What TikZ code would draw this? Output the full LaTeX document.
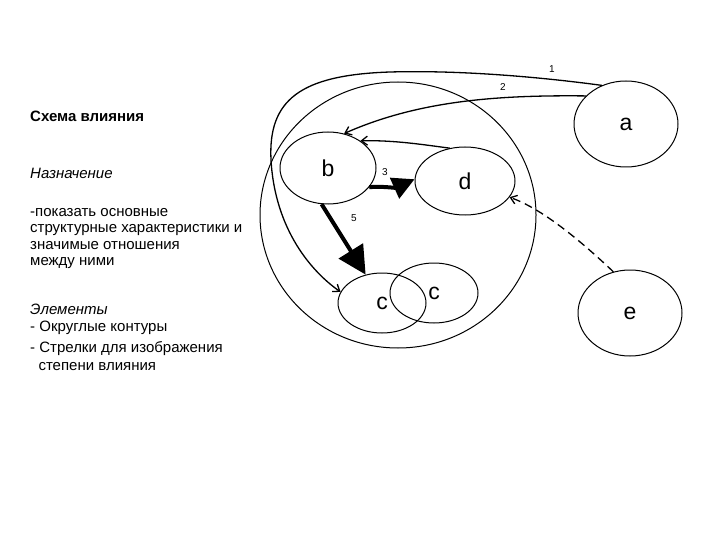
\documentclass[tikz,border=0pt]{standalone}
\usepackage{fontspec}
\setmainfont{Liberation Sans}
\usetikzlibrary{arrows.meta,shapes.geometric}
\begin{document}
\begin{tikzpicture}[x=1pt,y=-1pt,
  lab/.style={font=\fontsize{23}{23}\selectfont},
  txt/.style={anchor=west,font=\fontsize{15}{16}\selectfont,inner sep=0,text height=11pt,text depth=3pt},
  num/.style={font=\fontsize{10}{10}\selectfont,inner sep=0},
  thin/.style={line width=1.3pt,-{Straight Barb[length=6pt,width=9pt]}},
  big/.style={line width=4pt,-{Triangle[length=#1,width=#1]}}]
\useasboundingbox (0,0) rectangle (720,540);
\draw[line width=1pt] (398,215) ellipse [x radius=138,y radius=133];
\node[draw,line width=1pt,ellipse,minimum width=104pt,minimum height=86pt,lab] (a) at (626,124) {a};
\node[draw,line width=1pt,ellipse,minimum width=96pt,minimum height=72pt,lab] (b) at (328,168) {b};
\node[draw,line width=1pt,ellipse,minimum width=100pt,minimum height=68pt,lab] (d) at (465,181) {d};
\node[draw,line width=1pt,ellipse,minimum width=88pt,minimum height=60pt,lab] (c1) at (382,303) {c};
\node[draw,line width=1pt,ellipse,minimum width=88pt,minimum height=60pt,lab] (c2) at (434,293) {c};
\node[draw,line width=1pt,ellipse,minimum width=104pt,minimum height=86pt,lab] (e) at (630,313) {e};
% arrows
\draw[thin] (a.122) .. controls (540,77) and (460,70) .. (390,72)
  .. controls (300,75) and (268,100) .. (271,160) .. controls (275,230) and (312,272) .. (c1.165);
\draw[thin] (a.145) .. controls (500,95) and (420,100) .. (b.65);
\draw[thin] (d.115) .. controls (425,145) and (395,140) .. (b.40);
\draw[big=22pt] (b.-25) .. controls (380,186) and (395,188) .. (d.178);
\draw[big=28pt] (b.-100) -- (c1.120);
\draw[line width=1.3pt,dash pattern=on 8pt off 5pt,-{Straight Barb[length=6pt,width=9pt]}] (e.112) .. controls (585,245) and (545,210) .. (d.-20);
\node[num] (n1) at (552,69) {1};
\node[num] (n2) at (503,87) {2};
\node[num] (n3) at (385,172) {3};
\node[num] (n5) at (354,218) {5};
% text
\node[txt,font=\fontsize{15}{16}\selectfont\bfseries] (t1) at (30,118) {Схема влияния};
\node[txt,font=\fontsize{15}{16}\selectfont\itshape] (t2) at (30,175) {Назначение};
\node[txt] (t3) at (30,213) {-показать основные};
\node[txt] (t4) at (30,229) {структурные характеристики и};
\node[txt] (t5) at (30,245) {значимые отношения};
\node[txt] (t6) at (30,261) {между ними};
\node[txt,font=\fontsize{15}{16}\selectfont\itshape] (t7) at (30,310) {Элементы};
\node[txt] (t8) at (30,327) {- Округлые контуры};
\node[txt] (t9) at (30,348) {- Стрелки для изображения};
\node[txt] (t10) at (30,366) {\ \ степени влияния};
\end{tikzpicture}
\end{document}
